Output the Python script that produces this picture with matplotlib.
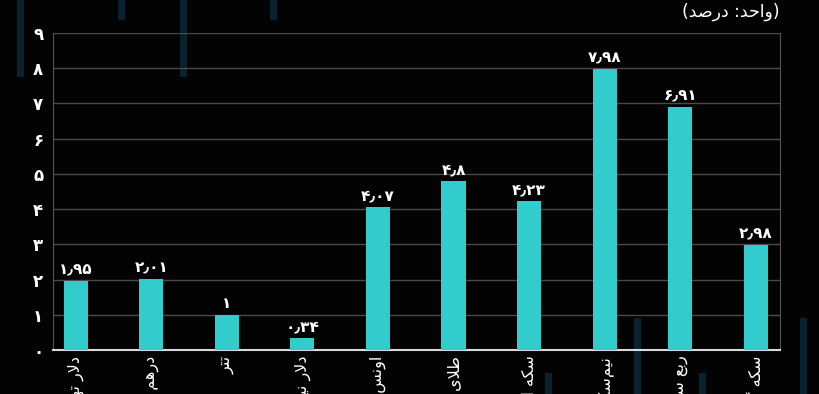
import matplotlib
matplotlib.use("Agg")
import matplotlib.pyplot as plt
from matplotlib.patches import Rectangle

# داده‌ها
labels = ["دلار تهران", "درهم امارات", "تتر", "دلار نیمایی", "اونس جهانی",
          "طلای آب‌شده", "سکه امامی", "نیم‌سکه", "ربع سکه", "سکه گرمی"]
values = [1.95, 2.01, 1, 0.34, 4.07, 4.8, 4.23, 7.98, 6.91, 2.98]
value_text = ["۱٫۹۵", "۲٫۰۱", "۱", "۰٫۳۴", "۴٫۰۷", "۴٫۸", "۴٫۲۳", "۷٫۹۸", "۶٫۹۱", "۲٫۹۸"]
y_ticks = list(range(10))
y_tick_text = ["۰", "۱", "۲", "۳", "۴", "۵", "۶", "۷", "۸", "۹"]
unit_text = "(واحد: درصد)"

# شکل‌های حروف: (جدا، پایانی، آغازی، میانی)
FORMS = {
    "ا": ("\uFE8D", "\uFE8E", None, None),
    "آ": ("\uFE81", "\uFE82", None, None),
    "ب": ("\uFE8F", "\uFE90", "\uFE91", "\uFE92"),
    "ت": ("\uFE95", "\uFE96", "\uFE97", "\uFE98"),
    "ج": ("\uFE9D", "\uFE9E", "\uFE9F", "\uFEA0"),
    "ح": ("\uFEA1", "\uFEA2", "\uFEA3", "\uFEA4"),
    "د": ("\uFEA9", "\uFEAA", None, None),
    "ر": ("\uFEAD", "\uFEAE", None, None),
    "س": ("\uFEB1", "\uFEB2", "\uFEB3", "\uFEB4"),
    "ش": ("\uFEB5", "\uFEB6", "\uFEB7", "\uFEB8"),
    "ص": ("\uFEB9", "\uFEBA", "\uFEBB", "\uFEBC"),
    "ط": ("\uFEC1", "\uFEC2", "\uFEC3", "\uFEC4"),
    "ع": ("\uFEC9", "\uFECA", "\uFECB", "\uFECC"),
    "ل": ("\uFEDD", "\uFEDE", "\uFEDF", "\uFEE0"),
    "م": ("\uFEE1", "\uFEE2", "\uFEE3", "\uFEE4"),
    "ن": ("\uFEE5", "\uFEE6", "\uFEE7", "\uFEE8"),
    "ه": ("\uFEE9", "\uFEEA", "\uFEEB", "\uFEEC"),
    "و": ("\uFEED", "\uFEEE", None, None),
    "ی": ("\uFBFC", "\uFBFD", "\uFBFE", "\uFBFF"),
    "ک": ("\uFB8E", "\uFB8F", "\uFB90", "\uFB91"),
    "گ": ("\uFB92", "\uFB93", "\uFB94", "\uFB95"),
}
LAM_ALEF = {"ا": ("\uFEFB", "\uFEFC"), "آ": ("\uFEF5", "\uFEF6")}


def joins_next(ch):
    return ch in FORMS and FORMS[ch][2] is not None


def shape(text):
    # matplotlib حروف فارسی را به هم نمی‌چسباند، پس اینجا شکل‌دهی می‌کنیم
    out = []
    i = 0
    n = len(text)
    while i < n:
        ch = text[i]
        if ch not in FORMS:
            out.append(ch)
            i += 1
            continue
        prev = text[i - 1] if i > 0 else ""
        con_prev = joins_next(prev)
        if ch == "ل" and i + 1 < n and text[i + 1] in LAM_ALEF:
            out.append(LAM_ALEF[text[i + 1]][1 if con_prev else 0])
            i += 2
            continue
        nxt = text[i + 1] if i + 1 < n else ""
        con_next = joins_next(ch) and nxt in FORMS
        iso, fin, ini, med = FORMS[ch]
        if con_prev and con_next:
            out.append(med)
        elif con_prev:
            out.append(fin)
        elif con_next:
            out.append(ini)
        else:
            out.append(iso)
        i += 1
    s = "".join(out).replace("\u200c", "")
    s = s[::-1]
    return s.replace("(", "\0").replace(")", "(").replace("\0", ")")


plt.rcParams["font.family"] = ["DejaVu Sans"]

fig = plt.figure(figsize=(8.2, 3.94), dpi=100, facecolor="#030303")

# نوارهای تزئینی پس‌زمینه
for x0, y0, h in [(17, 0, 77), (118, 0, 20), (180, 0, 77), (270, 0, 20),
                  (545, 373, 21), (634, 318, 76), (699, 373, 21), (800, 318, 76)]:
    fig.add_artist(Rectangle((x0 / 820, 1 - (y0 + h) / 394), 7 / 820, h / 394,
                             transform=fig.transFigure, color="#0a2230",
                             lw=0, zorder=0))

ax = fig.add_axes([53 / 820, 1 - 350 / 394, 727 / 820, 317 / 394])
ax.set_facecolor("none")

x = list(range(len(values)))
ax.bar(x, values, width=0.32, color="#33CCCC", zorder=3)

for xi, v, t in zip(x, values, value_text):
    ax.text(xi, v + 0.1, t, ha="center", va="bottom", color="white",
            fontsize=11, fontweight="bold")

ax.set_xlim(-0.30, 9.32)
ax.set_ylim(0, 9)
ax.set_yticks(y_ticks)
ax.set_yticklabels(y_tick_text, color="white", fontsize=12, fontweight="bold")
ax.set_xticks(x)
ax.set_xticklabels([shape(l) for l in labels], rotation=90, color="white",
                   fontsize=11.5, va="top", ha="center")
ax.tick_params(axis="both", length=0)
ax.tick_params(axis="y", pad=7)
ax.tick_params(axis="x", pad=4)

ax.grid(axis="y", color="#4a4a4a", lw=1, zorder=0)
ax.set_axisbelow(True)
for side in ["left", "right"]:
    ax.spines[side].set_color("#555555")
    ax.spines[side].set_linewidth(0.8)
ax.spines["top"].set_visible(False)
ax.spines["bottom"].set_color("#d9d9d9")
ax.spines["bottom"].set_linewidth(1.5)

fig.text(780 / 820, 1 - 12 / 394, shape(unit_text), ha="right", va="center",
         color="white", fontsize=12.5)

fig.savefig("out.png", dpi=100, facecolor=fig.get_facecolor())
